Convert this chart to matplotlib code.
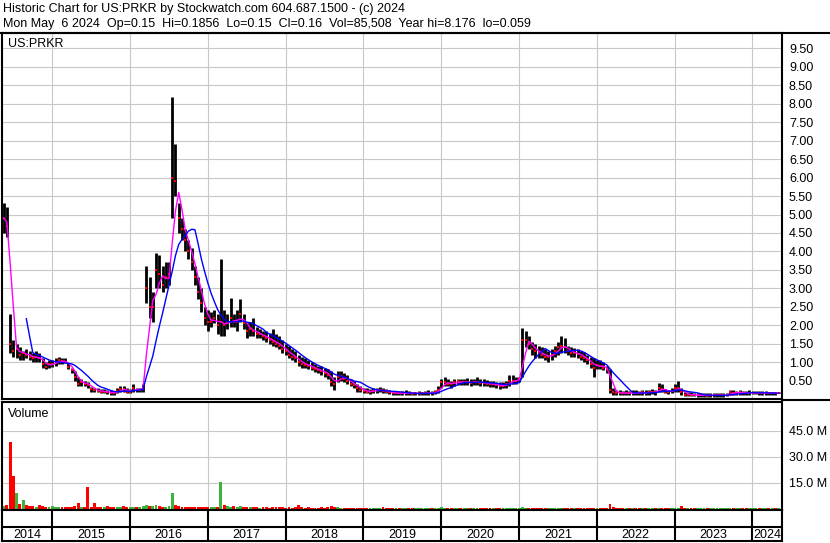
import numpy as np
import pandas as pd
import matplotlib
matplotlib.use("Agg")
import matplotlib.pyplot as plt
from matplotlib.lines import Line2D

plt.rcParams['font.family'] = ['Liberation Sans', 'DejaVu Sans']

# half-month bars, first one starts mid May 2014
start = 2014.357
years = list(range(2014, 2025))

hi = [5.3, 5.2, 2.3, 1.6, 1.5, 1.4, 1.3, 1.35, 1.3, 1.25, 1.3, 1.25, 1.1, 1.0, 1.05,  # 2014
      1.05, 1.1, 1.15, 1.1, 1.1, 0.98, 0.85, 0.75, 0.6, 0.55, 0.5, 0.45, 0.33, 0.3, 0.3, 0.28,
      0.28, 0.25, 0.25, 0.22, 0.3, 0.35, 0.35, 0.3,  # 2015
      0.28, 0.4, 0.3, 0.3, 0.4, 3.6, 3.3, 2.9, 3.95, 3.9, 3.6, 3.7, 3.7, 8.18, 6.9, 5.3,
      4.9, 4.6, 4.3, 4.1, 3.6, 3.3, 3.0, 2.5,  # 2016
      2.4, 2.35, 2.4, 2.3, 3.8, 2.4, 2.3, 2.75, 2.3, 2.4, 2.7, 2.3, 2.1, 2.1, 2.2, 1.95,
      1.9, 1.85, 1.85, 1.8, 1.9, 1.75, 1.7, 1.6,  # 2017
      1.5, 1.45, 1.35, 1.3, 1.2, 1.15, 1.1, 1.05, 1.0, 0.95, 0.9, 0.9, 0.85, 0.8, 0.75, 0.6,
      0.75, 0.75, 0.7, 0.65, 0.55, 0.5, 0.4, 0.35,  # 2018
      0.3, 0.3, 0.28, 0.3, 0.3, 0.32, 0.3, 0.28, 0.25, 0.22, 0.22, 0.2, 0.22, 0.25, 0.22, 0.2,
      0.2, 0.22, 0.2, 0.22, 0.25, 0.22, 0.25, 0.35,  # 2019
      0.55, 0.6, 0.55, 0.5, 0.55, 0.55, 0.55, 0.55, 0.58, 0.55, 0.55, 0.6, 0.55, 0.55, 0.52, 0.5,
      0.5, 0.45, 0.45, 0.45, 0.5, 0.65, 0.65, 0.6,  # 2020
      0.6, 1.92, 1.85, 1.7, 1.55, 1.5, 1.45, 1.4, 1.35, 1.3, 1.35, 1.45, 1.55, 1.7, 1.65, 1.45,
      1.4, 1.38, 1.35, 1.3, 1.27, 1.2, 1.15, 1.1,  # 2021
      1.05, 1.05, 1.0, 0.9, 0.8, 0.3, 0.25, 0.24, 0.22, 0.24, 0.22, 0.25, 0.24, 0.22, 0.25, 0.24,
      0.25, 0.26, 0.25, 0.43, 0.4, 0.28, 0.25, 0.3,  # 2022
      0.4, 0.5, 0.3, 0.2, 0.18, 0.18, 0.17, 0.17, 0.16, 0.16, 0.15, 0.15, 0.15, 0.16, 0.15, 0.15,
      0.16, 0.25, 0.24, 0.23, 0.24, 0.23, 0.22, 0.24,  # 2023
      0.22, 0.23, 0.22, 0.21, 0.22, 0.2, 0.2, 0.2, 0.19]  # 2024

lo = [4.5, 4.4, 1.25, 1.15, 1.1, 1.05, 1.05, 1.1, 1.05, 1.0, 1.0, 1.0, 0.85, 0.8, 0.85,
      0.88, 0.9, 0.95, 0.95, 0.97, 0.8, 0.7, 0.5, 0.35, 0.35, 0.35, 0.3, 0.2, 0.18, 0.18, 0.15,
      0.15, 0.14, 0.12, 0.12, 0.15, 0.2, 0.2, 0.15,
      0.15, 0.2, 0.18, 0.2, 0.2, 2.6, 2.2, 2.1, 3.0, 3.0, 2.9, 3.0, 3.1, 4.9, 5.5, 4.5,
      4.3, 4.0, 3.8, 3.5, 3.1, 2.7, 2.35, 2.0,
      1.85, 1.95, 2.05, 1.75, 1.7, 1.7, 1.9, 1.95, 1.95, 1.85, 2.1, 1.9, 1.65, 1.7, 1.7, 1.65,
      1.65, 1.6, 1.55, 1.5, 1.45, 1.4, 1.35, 1.25,
      1.2, 1.1, 1.05, 1.0, 0.9, 0.85, 0.85, 0.8, 0.78, 0.72, 0.7, 0.65, 0.6, 0.55, 0.35, 0.25,
      0.45, 0.5, 0.45, 0.4, 0.35, 0.3, 0.2, 0.18,
      0.15, 0.15, 0.14, 0.15, 0.17, 0.18, 0.17, 0.15, 0.13, 0.12, 0.12, 0.1, 0.1, 0.12, 0.12, 0.1,
      0.1, 0.1, 0.1, 0.12, 0.12, 0.12, 0.13, 0.15,
      0.3, 0.35, 0.35, 0.3, 0.35, 0.38, 0.38, 0.38, 0.38, 0.36, 0.38, 0.38, 0.36, 0.35, 0.35, 0.33,
      0.32, 0.3, 0.28, 0.3, 0.3, 0.35, 0.4, 0.42,
      0.45, 0.6, 1.4, 1.35, 1.2, 1.1, 1.1, 1.1, 1.05, 1.0, 1.05, 1.15, 1.2, 1.25, 1.25, 1.2,
      1.15, 1.15, 1.12, 1.05, 1.0, 0.95, 0.85, 0.6,
      0.8, 0.8, 0.78, 0.7, 0.15, 0.12, 0.1, 0.1, 0.1, 0.11, 0.1, 0.12, 0.11, 0.1, 0.12, 0.12,
      0.12, 0.13, 0.12, 0.18, 0.18, 0.15, 0.13, 0.15,
      0.18, 0.2, 0.12, 0.08, 0.08, 0.07, 0.07, 0.06, 0.06, 0.06, 0.06, 0.06, 0.06, 0.06, 0.06, 0.06,
      0.07, 0.1, 0.12, 0.12, 0.12, 0.12, 0.12, 0.12,
      0.13, 0.13, 0.12, 0.12, 0.12, 0.12, 0.12, 0.12, 0.15]

cl = [4.9, 4.7, 1.5, 1.3, 1.35, 1.2, 1.25, 1.2, 1.15, 1.1, 1.15, 1.1, 0.95, 0.88, 0.95,
      0.95, 1.0, 1.05, 1.02, 1.0, 0.88, 0.78, 0.6, 0.42, 0.45, 0.42, 0.38, 0.27, 0.24, 0.22, 0.2,
      0.2, 0.18, 0.17, 0.16, 0.22, 0.28, 0.26, 0.2,
      0.2, 0.3, 0.25, 0.25, 0.3, 3.0, 2.5, 2.5, 3.5, 3.4, 3.1, 3.3, 3.4, 6.0, 5.9, 4.9,
      4.6, 4.3, 4.0, 3.7, 3.3, 2.9, 2.6, 2.2,
      2.1, 2.1, 2.2, 2.0, 2.1, 2.0, 2.05, 2.2, 2.1, 2.1, 2.3, 2.05, 1.85, 1.9, 1.85, 1.75,
      1.75, 1.7, 1.65, 1.6, 1.55, 1.5, 1.45, 1.35,
      1.3, 1.2, 1.15, 1.1, 1.0, 0.95, 0.92, 0.9, 0.85, 0.8, 0.78, 0.75, 0.7, 0.65, 0.45, 0.4,
      0.6, 0.62, 0.55, 0.5, 0.42, 0.38, 0.3, 0.25,
      0.22, 0.2, 0.2, 0.22, 0.24, 0.25, 0.22, 0.2, 0.18, 0.16, 0.16, 0.15, 0.16, 0.17, 0.16, 0.14,
      0.15, 0.15, 0.15, 0.16, 0.17, 0.16, 0.18, 0.25,
      0.45, 0.45, 0.42, 0.4, 0.45, 0.48, 0.45, 0.45, 0.46, 0.44, 0.45, 0.47, 0.44, 0.43, 0.42, 0.4,
      0.4, 0.38, 0.35, 0.36, 0.4, 0.5, 0.5, 0.5,
      0.55, 1.6, 1.6, 1.5, 1.35, 1.3, 1.25, 1.2, 1.15, 1.15, 1.2, 1.3, 1.4, 1.45, 1.4, 1.3,
      1.25, 1.25, 1.22, 1.15, 1.1, 1.05, 0.95, 0.85,
      0.92, 0.9, 0.85, 0.8, 0.25, 0.2, 0.17, 0.16, 0.15, 0.17, 0.15, 0.17, 0.16, 0.15, 0.18, 0.17,
      0.18, 0.19, 0.18, 0.3, 0.28, 0.2, 0.18, 0.22,
      0.3, 0.3, 0.18, 0.12, 0.12, 0.11, 0.1, 0.1, 0.1, 0.1, 0.09, 0.1, 0.1, 0.1, 0.1, 0.1,
      0.11, 0.18, 0.17, 0.17, 0.18, 0.17, 0.16, 0.17,
      0.17, 0.17, 0.16, 0.16, 0.16, 0.15, 0.16, 0.15, 0.16]

# volume in millions
vol = [1.5, 2.0, 38.7, 19.0, 9.0, 3.0, 5.0, 2.5, 1.5, 1.8, 1.2, 2.0, 1.5, 1.3, 1.2,
       1.5, 1.2, 1.0, 1.3, 1.1, 1.0, 1.2, 1.5, 3.2, 1.2, 1.0, 12.7, 1.3, 3.5, 1.2, 1.0,
       1.1, 1.5, 1.4, 1.0, 1.2, 1.3, 1.5, 1.1,
       1.0, 1.0, 0.9, 1.2, 1.5, 2.5, 1.8, 1.5, 2.0, 1.5, 1.2, 1.4, 1.6, 9.2, 2.0, 1.5,
       1.2, 1.0, 1.1, 1.3, 1.0, 0.9, 1.0, 1.2,
       1.0, 1.0, 1.2, 1.1, 15.6, 2.0, 1.5, 1.2, 1.8, 1.0, 1.5, 1.0, 0.9, 1.0, 1.2, 0.9,
       0.8, 1.0, 0.9, 0.8, 1.0, 0.9, 1.2, 1.0,
       0.8, 0.9, 0.8, 1.0, 2.0, 1.0, 0.8, 0.9, 0.8, 0.7, 0.8, 0.9, 0.8, 1.0, 1.5, 1.0,
       0.9, 0.8, 0.7, 0.8, 0.7, 0.6, 0.7, 0.6,
       0.5, 0.6, 0.5, 0.6, 0.7, 0.6, 1.0, 0.6, 0.5, 0.5, 0.6, 0.5, 0.5, 0.6, 0.5, 0.5,
       0.6, 0.5, 0.5, 0.6, 0.5, 0.6, 0.7, 0.8,
       0.9, 0.8, 0.7, 0.6, 0.7, 0.6, 0.6, 0.7, 0.6, 0.6, 0.7, 0.6, 0.6, 0.5, 0.6, 0.6,
       0.5, 0.6, 0.6, 0.7, 0.6, 0.7, 0.8, 0.7,
       0.7, 0.9, 0.8, 0.7, 0.7, 0.6, 0.7, 0.6, 0.6, 0.7, 0.6, 0.7, 0.8, 0.7, 0.6, 0.6,
       0.6, 0.7, 0.6, 0.6, 0.7, 0.6, 0.7, 0.8,
       0.6, 0.6, 0.6, 0.7, 3.1, 1.0, 0.7, 0.6, 0.6, 0.5, 0.5, 0.6, 0.5, 0.5, 0.5, 0.6,
       0.5, 0.5, 0.6, 0.5, 0.5, 0.5, 0.6, 0.5,
       0.5, 0.6, 1.5, 0.6, 0.5, 0.5, 0.5, 0.5, 0.4, 0.5, 0.5, 0.4, 0.5, 0.5, 0.4, 0.5,
       0.5, 0.5, 0.4, 0.5, 0.5, 0.5, 0.6, 0.5,
       0.5, 0.6, 0.5, 0.5, 0.5, 0.6, 0.5, 0.5, 0.5]

n = len(cl)
x = start + (np.arange(n) + 0.5) / 24
close = pd.Series(cl)
ma_short = close.rolling(3, min_periods=1).mean()
ma_long = close.rolling(8).mean()
up = np.r_[True, np.diff(cl) >= 0]
vol_colors = np.where(up, '#3cb43c', '#ff0000')

W, H = 830, 543
def box(l, t, r, b):
    return [l / W, 1 - b / H, (r - l) / W, (b - t) / H]

fig = plt.figure(figsize=(W / 100, H / 100), dpi=100)
x0, x1 = start, 2024.38
grid_c = '#c8c8c8'

# --- price panel ---
ax = fig.add_axes(box(2, 33, 782, 399))
ax.vlines(x, lo, hi, color='black', lw=2.0, zorder=2)
ax.plot(x, cl, 's', color='red', ms=1.8, mew=0, zorder=3)
ax.plot(x, ma_short, color='#ff00ff', lw=1.0, zorder=4)
ax.plot(x, ma_long, color='#0000ff', lw=1.0, zorder=5)
ax.set_xlim(x0, x1)
ax.set_ylim(0, 9.92)
ax.set_yticks(np.arange(0.5, 9.51, 0.5))
ax.yaxis.set_major_formatter(plt.FormatStrFormatter('%.2f'))
ax.set_xticks(years[1:])
ax.tick_params(axis='x', length=0, labelbottom=False)
ax.yaxis.tick_right()
ax.tick_params(axis='y', length=0, pad=5, labelsize=9)
ax.grid(True, color=grid_c, lw=0.8, zorder=0)
ax.text(0.008, 0.985, 'US:PRKR', transform=ax.transAxes, ha='left', va='top', fontsize=9)

# --- volume panel ---
axv = fig.add_axes(box(2, 402, 782, 510))
axv.bar(x, vol, width=1 / 24 * 0.9, color=vol_colors, lw=0, zorder=2)
axv.set_xlim(x0, x1)
axv.set_ylim(-0.6, 61.7)
axv.set_yticks([15, 30, 45])
axv.set_yticklabels(['15.0 M', '30.0 M', '45.0 M'])
axv.set_xticks(years[1:])
axv.tick_params(axis='x', length=0, labelbottom=False)
axv.yaxis.tick_right()
axv.tick_params(axis='y', length=0, pad=5, labelsize=9)
axv.grid(True, color=grid_c, lw=0.8, zorder=0)
axv.text(0.008, 0.94, 'Volume', transform=axv.transAxes, ha='left', va='top', fontsize=9)

# --- year strip ---
axd = fig.add_axes(box(2, 510, 782, 541))
axd.set_xlim(x0, x1)
axd.set_ylim(0, 1)
axd.set_xticks([])
axd.set_yticks([])
axd.vlines(years[1:], 0, 1, color='black', lw=1.5)
axd.axhline(0.45, color='black', lw=1.5)
for y in years:
    lft, rgt = max(y, x0), min(y + 1, x1)
    axd.text((lft + rgt) / 2, 0.2, str(y), ha='center', va='center', fontsize=9)

for a in (ax, axv, axd):
    for s in a.spines.values():
        s.set_linewidth(1.5)
        s.set_color('black')

# separators across the label column
fig.add_artist(Line2D([0, 1], [1 - 33 / H, 1 - 33 / H], color='black', lw=1.5))
fig.add_artist(Line2D([782 / W, 1], [1 - 400 / H, 1 - 400 / H], color='black', lw=1.5))

fig.text(3 / W, 1 - 9 / H, 'Historic Chart for US:PRKR by Stockwatch.com 604.687.1500 - (c) 2024',
         ha='left', va='center', fontsize=9)
fig.text(3 / W, 1 - 24 / H, 'Mon May  6 2024  Op=0.15  Hi=0.1856  Lo=0.15  Cl=0.16  Vol=85,508  '
         'Year hi=8.176  lo=0.059', ha='left', va='center', fontsize=9)

fig.savefig('out.png', dpi=100, facecolor='white')
